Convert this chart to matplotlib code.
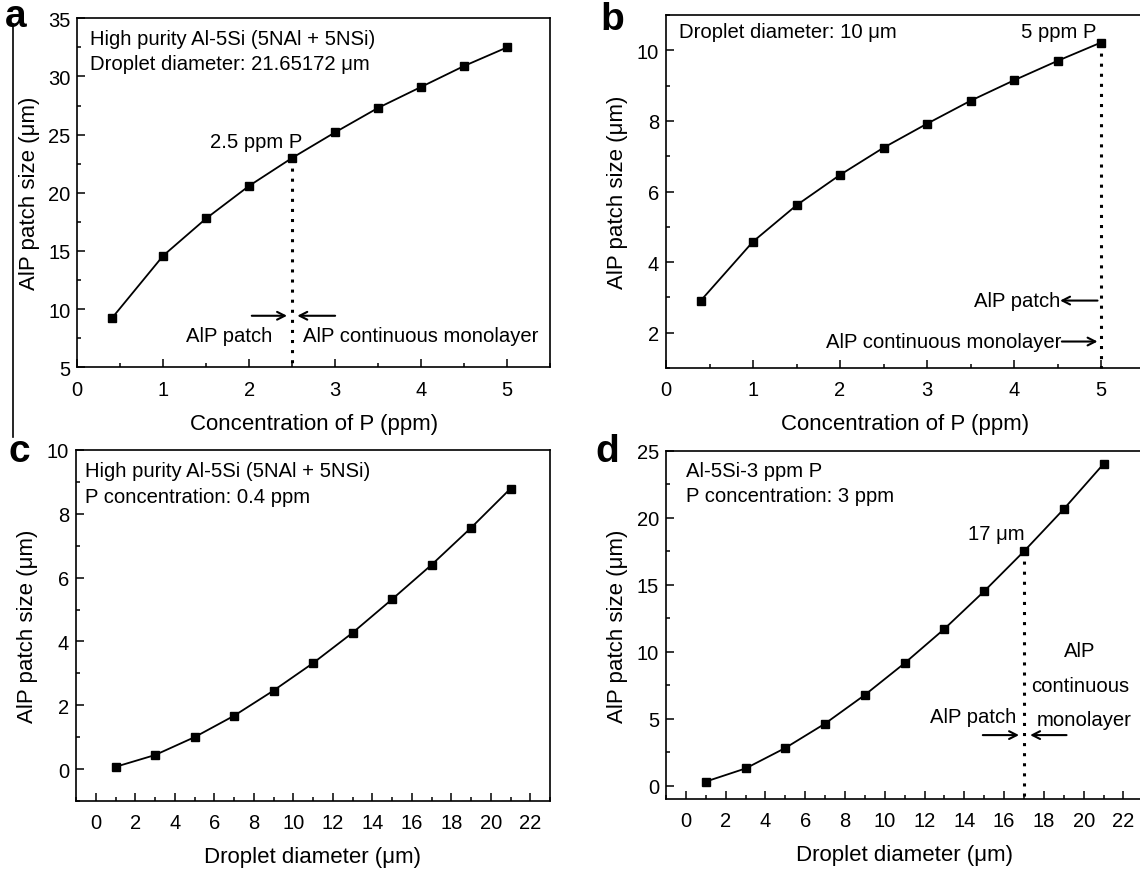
import matplotlib
matplotlib.use("Agg")
import matplotlib.pyplot as plt
from matplotlib.lines import Line2D
from matplotlib.ticker import MultipleLocator

plt.rcParams["font.family"] = ["Liberation Sans", "DejaVu Sans"]

# (a) patch size vs P concentration, droplet 21.65172 um
conc_a = [0.4, 1.0, 1.5, 2.0, 2.5, 3.0, 3.5, 4.0, 4.5, 5.0]
size_a = [9.2, 14.6, 17.8, 20.6, 23.0, 25.2, 27.3, 29.1, 30.9, 32.5]

# (b) patch size vs P concentration, droplet 10 um
conc_b = [0.4, 1.0, 1.5, 2.0, 2.5, 3.0, 3.5, 4.0, 4.5, 5.0]
size_b = [2.91, 4.58, 5.61, 6.47, 7.24, 7.92, 8.57, 9.15, 9.70, 10.22]

# (c) patch size vs droplet diameter, 0.4 ppm P
diam_c = [1, 3, 5, 7, 9, 11, 13, 15, 17, 19, 21]
size_c = [0.07, 0.44, 1.0, 1.67, 2.46, 3.32, 4.27, 5.32, 6.40, 7.56, 8.79]

# (d) patch size vs droplet diameter, 3 ppm P
diam_d = [1, 3, 5, 7, 9, 11, 13, 15, 17, 19, 21]
size_d = [0.30, 1.28, 2.81, 4.63, 6.77, 9.14, 11.70, 14.51, 17.49, 20.64, 24.01]

ylabel = "AlP patch size (μm)"
xlabel_conc = "Concentration of P (ppm)"
xlabel_diam = "Droplet diameter (μm)"

TICK_FS = 14.5
LABEL_FS = 16
NOTE_FS = 14.6
PANEL_FS = 28

W, H = 1140, 870
fig = plt.figure(figsize=(W / 100, H / 100), dpi=100)


def px_axes(left, right, top, bottom):
    return fig.add_axes([left / W, 1 - bottom / H, (right - left) / W, (bottom - top) / H])


def style(ax):
    for s in ax.spines.values():
        s.set_linewidth(1.2)
    ax.tick_params(which="both", direction="in", top=False, right=False,
                   labelsize=TICK_FS, width=1.1)
    ax.tick_params(axis="x", which="both", pad=9)
    ax.tick_params(axis="y", which="both", pad=5)
    ax.tick_params(which="major", length=6)
    ax.tick_params(which="minor", length=3)


def series(ax, x, y):
    ax.plot(x, y, color="black", lw=1.3, marker="s", ms=6.2,
            mfc="black", mec="black", zorder=3)


def dotted(ax, x, y0, y1):
    ax.plot([x, x], [y0, y1], color="black", lw=2.2, dashes=(1, 2.3),
            zorder=2, clip_on=False)


def arrow(ax, tail, head):
    ax.annotate("", xy=head, xytext=tail,
                arrowprops=dict(arrowstyle="->,head_length=0.55,head_width=0.28",
                                lw=1.5, color="black", shrinkA=0, shrinkB=0))


# ---------- (a) ----------
ax = px_axes(77.3, 550, 19.3, 368.3)
series(ax, conc_a, size_a)
ax.set_xlim(0, 5.5)
ax.set_ylim(5, 35)
ax.xaxis.set_major_locator(MultipleLocator(1))
ax.xaxis.set_minor_locator(MultipleLocator(0.5))
ax.yaxis.set_major_locator(MultipleLocator(5))
ax.yaxis.set_minor_locator(MultipleLocator(2.5))
style(ax)
ax.set_xlabel(xlabel_conc, fontsize=LABEL_FS, labelpad=10)
ax.set_ylabel(ylabel, fontsize=LABEL_FS, labelpad=6)
ax.text(0.15, 33.3, "High purity Al-5Si (5NAl + 5NSi)", fontsize=NOTE_FS, va="center")
ax.text(0.15, 31.1, "Droplet diameter: 21.65172 μm", fontsize=NOTE_FS, va="center")
ax.text(2.62, 24.4, "2.5 ppm P", fontsize=NOTE_FS, ha="right", va="center")
dotted(ax, 2.5, size_a[4], 5)
arrow(ax, (2.03, 9.43), (2.44, 9.43))
arrow(ax, (3.0, 9.43), (2.56, 9.43))
ax.text(2.27, 7.7, "AlP patch", fontsize=NOTE_FS, ha="right", va="center")
ax.text(2.63, 7.7, "AlP continuous monolayer", fontsize=NOTE_FS, ha="left", va="center")
fig.text(5 / W, 1 - 17 / H, "a", fontsize=PANEL_FS, fontweight="bold", va="center", ha="left")

# ---------- (b) ----------
ax = px_axes(666, 1144.5, 16, 369)
series(ax, conc_b, size_b)
ax.set_xlim(0, 5.5)
ax.set_ylim(1, 11)
ax.xaxis.set_major_locator(MultipleLocator(1))
ax.xaxis.set_minor_locator(MultipleLocator(0.5))
ax.yaxis.set_major_locator(MultipleLocator(2))
ax.yaxis.set_minor_locator(MultipleLocator(1))
style(ax)
ax.set_xlabel(xlabel_conc, fontsize=LABEL_FS, labelpad=10)
ax.set_ylabel(ylabel, fontsize=LABEL_FS, labelpad=6)
ax.text(0.15, 10.52, "Droplet diameter: 10 μm", fontsize=NOTE_FS, va="center")
ax.text(4.95, 10.52, "5 ppm P", fontsize=NOTE_FS, ha="right", va="center")
dotted(ax, 5.0, size_b[-1], 1)
arrow(ax, (4.96, 2.91), (4.53, 2.91))
ax.text(4.53, 2.91, "AlP patch", fontsize=NOTE_FS, ha="right", va="center")
arrow(ax, (4.55, 1.75), (4.96, 1.75))
ax.text(4.55, 1.75, "AlP continuous monolayer", fontsize=NOTE_FS, ha="right", va="center")
fig.text(600 / W, 1 - 20 / H, "b", fontsize=PANEL_FS, fontweight="bold", va="center", ha="left")

# ---------- (c) ----------
ax = px_axes(76, 550, 451, 802)
series(ax, diam_c, size_c)
ax.set_xlim(-1, 23)
ax.set_ylim(-1, 10)
ax.xaxis.set_major_locator(MultipleLocator(2))
ax.xaxis.set_minor_locator(MultipleLocator(1))
ax.yaxis.set_major_locator(MultipleLocator(2))
ax.yaxis.set_minor_locator(MultipleLocator(1))
style(ax)
ax.set_xlabel(xlabel_diam, fontsize=LABEL_FS, labelpad=10)
ax.set_ylabel(ylabel, fontsize=LABEL_FS, labelpad=6)
ax.text(-0.55, 9.35, "High purity Al-5Si (5NAl + 5NSi)", fontsize=NOTE_FS, va="center")
ax.text(-0.55, 8.55, "P concentration: 0.4 ppm", fontsize=NOTE_FS, va="center")
fig.text(8 / W, 1 - 452 / H, "c", fontsize=PANEL_FS, fontweight="bold", va="center", ha="left")

# ---------- (d) ----------
ax = px_axes(666, 1143.3, 451.7, 800)
series(ax, diam_d, size_d)
ax.set_xlim(-1, 23)
ax.set_ylim(-1, 25)
ax.xaxis.set_major_locator(MultipleLocator(2))
ax.xaxis.set_minor_locator(MultipleLocator(1))
ax.yaxis.set_major_locator(MultipleLocator(5))
ax.yaxis.set_minor_locator(MultipleLocator(2.5))
style(ax)
ax.set_xlabel(xlabel_diam, fontsize=LABEL_FS, labelpad=10)
ax.set_ylabel(ylabel, fontsize=LABEL_FS, labelpad=6)
ax.text(0.0, 23.5, "Al-5Si-3 ppm P", fontsize=NOTE_FS, va="center")
ax.text(0.0, 21.65, "P concentration: 3 ppm", fontsize=NOTE_FS, va="center")
ax.text(17.05, 18.85, "17 μm", fontsize=NOTE_FS, ha="right", va="center")
dotted(ax, 17.0, size_d[8], -1)
ax.text(19.8, 10.1, "AlP", fontsize=NOTE_FS, ha="center", va="center")
ax.text(19.85, 7.5, "continuous", fontsize=NOTE_FS, ha="center", va="center")
ax.text(20.0, 4.95, "monolayer", fontsize=NOTE_FS, ha="center", va="center")
ax.text(16.63, 5.15, "AlP patch", fontsize=NOTE_FS, ha="right", va="center")
arrow(ax, (14.93, 3.77), (16.75, 3.77))
arrow(ax, (19.14, 3.77), (17.31, 3.77))
fig.text(595 / W, 1 - 452 / H, "d", fontsize=PANEL_FS, fontweight="bold", va="center", ha="left")

# left frame edge of the upper-left panel
fig.add_artist(Line2D([13.3 / W, 13.3 / W], [1 - 25 / H, 1 - 438 / H],
                      transform=fig.transFigure, color="black", lw=1.2))

fig.savefig("out.png", dpi=100)
